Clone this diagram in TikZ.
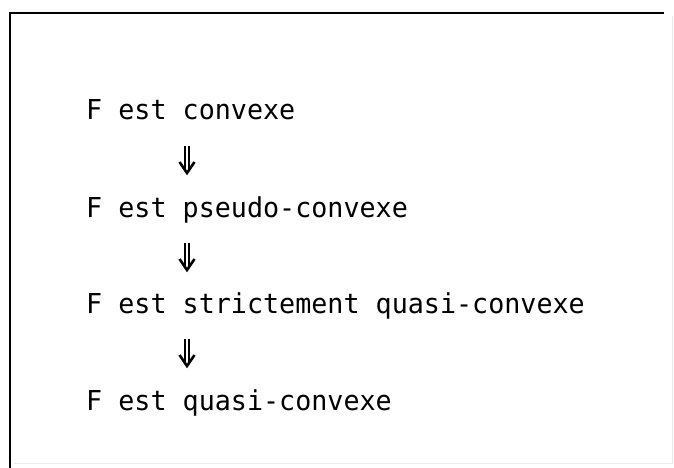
\documentclass[tikz,border=0pt]{standalone}
\usepackage{fontspec}
\newfontfamily\monofont[FakeStretch=0.975]{DejaVu Sans Mono}
\begin{document}
\begin{tikzpicture}[x=1pt,y=-1pt,
  line/.style={font=\monofont\fontsize{27.4}{30}\selectfont, anchor=base west, inner sep=0pt},
  implarrow/.pic={
    \draw[line width=1.3pt] (-2,0) -- (-2,23) (2,0) -- (2,23);
    \draw[line width=2.6pt, line join=miter, line cap=butt] (-7.5,16) -- (0,27) -- (7.5,16);
  }]
\useasboundingbox (0,0) rectangle (674,468);
\fill[white] (0,0) rectangle (674,468);
% frame
\draw[black!8, line width=1pt] (672,16) -- (672,463) -- (14,463);
\draw[line width=2.8pt] (10,468) -- (10,13) -- (664,13);
% statements
\node[line] (a) at (86,120) {F est convexe};
\node[line] (b) at (86,217) {F est pseudo-convexe};
\node[line] (c) at (86,313) {F est strictement quasi-convexe};
\node[line] (d) at (86,410) {F est quasi-convexe};
% implications
\coordinate (ab) at (187,146);
\coordinate (bc) at (187,243);
\coordinate (cd) at (187,339);
\pic at (ab) {implarrow};
\pic at (bc) {implarrow};
\pic at (cd) {implarrow};
\end{tikzpicture}
\end{document}
